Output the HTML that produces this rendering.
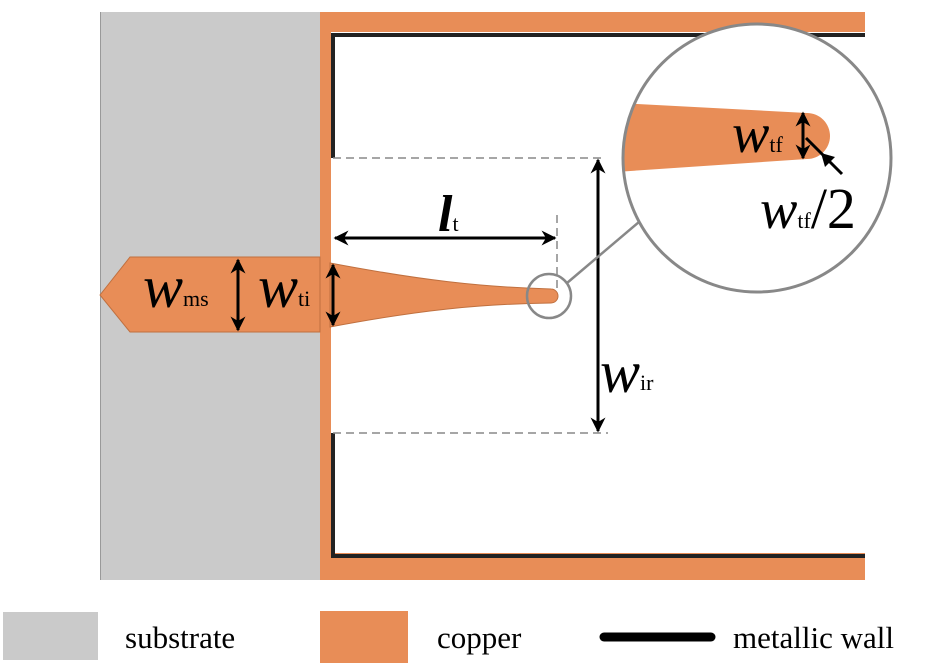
<!DOCTYPE html>
<html><head><meta charset="utf-8"><style>
html,body{margin:0;padding:0;background:#fff;}
svg{display:block;}
</style></head><body>
<svg width="940" height="667" viewBox="0 0 940 667" xmlns="http://www.w3.org/2000/svg" font-family="'Liberation Serif', 'DejaVu Serif', serif">
<defs>
<marker id="ah" viewBox="0 0 10 10" refX="9" refY="5" markerWidth="5" markerHeight="5" orient="auto-start-reverse" markerUnits="strokeWidth">
<path d="M0,0 L10,5 L0,10 L3,5 z" fill="#000"/></marker>
<clipPath id="cc"><circle cx="757" cy="158" r="134"/></clipPath>
</defs>
<rect x="100" y="12" width="220" height="568" fill="#cacaca"/>
<line x1="100.5" y1="12" x2="100.5" y2="580" stroke="#999" stroke-width="1"/>
<rect x="320" y="12" width="545" height="20" fill="#e88d57"/>
<rect x="320" y="553" width="545" height="27" fill="#e88d57"/>
<rect x="320" y="12" width="11" height="568" fill="#e88d57"/>
<path d="M333,158 L333,35 L865,35" fill="none" stroke="#222" stroke-width="4"/>
<path d="M333,433 L333,556 L865,556" fill="none" stroke="#222" stroke-width="4"/>
<path d="M100,295 L130,257 L320,257 L320,332 L130,332 Z" fill="#e88d57" stroke="#c0703f" stroke-width="1"/>
<path d="M330,263 C420,280 480,287 551,289 A7,7 0 0 1 551,303 C480,304 420,310 330,327 Z" fill="#e88d57" stroke="#c0703f" stroke-width="1"/>
<g stroke="#888" stroke-width="1.5" stroke-dasharray="8,5" fill="none">
<line x1="333" y1="158" x2="605" y2="158"/>
<line x1="333" y1="433" x2="608" y2="433"/>
<line x1="557" y1="215" x2="557" y2="292"/>
</g>
<g stroke="#000" stroke-width="3" fill="none">
<line x1="335" y1="238" x2="555" y2="238" marker-start="url(#ah)" marker-end="url(#ah)"/>
<line x1="598" y1="160" x2="598" y2="431" marker-start="url(#ah)" marker-end="url(#ah)"/>
<line x1="238" y1="260" x2="238" y2="330" marker-start="url(#ah)" marker-end="url(#ah)"/>
<line x1="333" y1="265" x2="333" y2="325" marker-start="url(#ah)" marker-end="url(#ah)"/>
</g>
<circle cx="549" cy="296" r="22" fill="none" stroke="#888" stroke-width="2.5"/>
<line x1="567" y1="283" x2="646" y2="216" stroke="#888" stroke-width="2.5"/>
<circle cx="757" cy="158" r="134" fill="#fff"/>
<g clip-path="url(#cc)">
<path d="M600,102 L807,113 A23,23 0 0 1 807,159 L600,173 Z" fill="#e88d57"/>
</g>
<circle cx="757" cy="158" r="134" fill="none" stroke="#888" stroke-width="3"/>
<g stroke="#000" stroke-width="3" fill="none">
<line x1="803" y1="113" x2="803" y2="158" marker-start="url(#ah)" marker-end="url(#ah)"/>
<line x1="806" y1="138" x2="842" y2="174"/>
</g>
<polygon points="821,153 825,167 835,157" fill="#000"/>
<g font-size="60" font-style="italic">
<text x="143" y="307">w<tspan font-style="normal" font-size="22" dy="-1">ms</tspan></text>
<text x="258" y="307">w<tspan font-style="normal" font-size="22" dy="-1">ti</tspan></text>
<text x="438" y="231" font-weight="bold" font-size="52">l<tspan font-style="normal" font-weight="normal" font-size="22" dy="0">t</tspan></text>
<text x="600" y="392">w<tspan font-style="normal" font-size="22" dy="-2">ir</tspan></text>
<text x="732" y="152" font-size="56">w<tspan font-style="normal" font-size="22" dy="0">tf</tspan></text>
<text x="760" y="228" font-size="56">w<tspan font-style="normal" font-size="22" dy="0">tf</tspan><tspan font-style="normal" font-size="58" dy="0">/2</tspan></text>
</g>
<rect x="3" y="612" width="95" height="48" fill="#cacaca"/>
<text x="125" y="648" font-size="31">substrate</text>
<rect x="320" y="611" width="88" height="52" fill="#e88d57"/>
<text x="437" y="648" font-size="31">copper</text>
<line x1="604" y1="637" x2="711" y2="637" stroke="#000" stroke-width="9" stroke-linecap="round"/>
<text x="733" y="648" font-size="31">metallic wall</text>
</svg>
</body></html>
